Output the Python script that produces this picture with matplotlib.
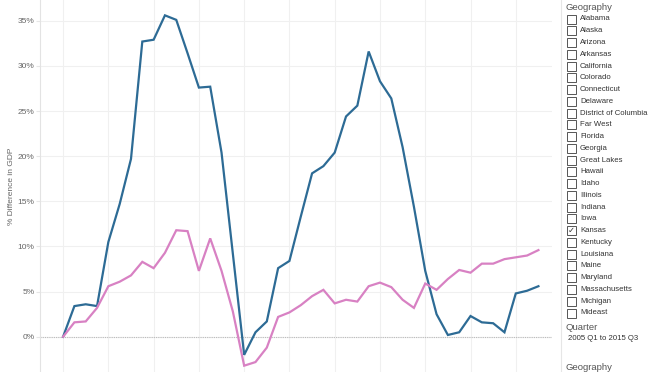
import matplotlib
matplotlib.use("Agg")
import matplotlib.pyplot as plt
from matplotlib.patches import Rectangle

# quarters 2005 Q1 .. 2015 Q3
quarters = [f"{y} Q{q}" for y in range(2005, 2016) for q in range(1, 5)][:43]

# % difference in GDP vs 2005 Q1
blue_vals = [0.0, 3.4, 3.6, 3.4, 10.5, 14.7, 19.7, 32.7, 32.9, 35.6,
             35.1, 31.4, 27.6, 27.7, 20.4, 9.2, -2.0, 0.5, 1.7, 7.6,
             8.4, 13.3, 18.1, 18.9, 20.4, 24.4, 25.6, 31.6, 28.3, 26.4,
             21.0, 14.4, 7.3, 2.5, 0.2, 0.5, 2.3, 1.6, 1.5, 0.5,
             4.8, 5.1, 5.6]
pink_vals = [0.0, 1.6, 1.7, 3.2, 5.6, 6.1, 6.8, 8.3, 7.6, 9.3,
             11.8, 11.7, 7.3, 10.9, 7.3, 2.8, -3.2, -2.8, -1.2, 2.2,
             2.7, 3.5, 4.5, 5.2, 3.7, 4.1, 3.9, 5.6, 6.0, 5.5,
             4.1, 3.2, 5.9, 5.2, 6.4, 7.4, 7.1, 8.1, 8.1, 8.6,
             8.8, 9.0, 9.6]

yticks = [0, 5, 10, 15, 20, 25, 30, 35]
geo_items = ["Alabama", "Alaska", "Arizona", "Arkansas", "California", "Colorado",
             "Connecticut", "Delaware", "District of Columbia", "Far West", "Florida",
             "Georgia", "Great Lakes", "Hawaii", "Idaho", "Illinois", "Indiana", "Iowa",
             "Kansas", "Kentucky", "Louisiana", "Maine", "Maryland", "Massachusetts",
             "Michigan", "Mideast"]
checked = ["Kansas"]

W, H = 672, 372
fig = plt.figure(figsize=(W / 100, H / 100), dpi=100)
plt.rcParams['font.family'] = ['Liberation Sans', 'DejaVu Sans']

ax = fig.add_axes([40 / W, 0, (552 - 40) / W, 1])
x = list(range(len(quarters)))
ax.plot(x, blue_vals, color='#2d6b95', lw=1.6, solid_joinstyle='miter', zorder=3)
ax.plot(x, pink_vals, color='#d881c3', lw=1.6, solid_joinstyle='miter', zorder=3)

ax.set_xlim(-2.04, 43.2)
ax.set_ylim(-3.9, 37.3)
ax.set_yticks(yticks)
ax.set_yticklabels([f"{t}%" for t in yticks])
ax.set_xticks(range(0, 44, 4))
ax.tick_params(axis='x', length=0, labelbottom=False)
ax.tick_params(axis='y', length=3, color='#e6e6e6', labelsize=6, labelcolor='#666666', pad=1)
ax.grid(True, color='#f0f0f0', lw=0.8)
ax.axhline(0, color='#bbbbbb', lw=0.8, ls=(0, (1, 1)), zorder=2)
for s in ['top', 'right', 'bottom']:
    ax.spines[s].set_visible(False)
ax.spines['left'].set_color('#e3e3e3')
ax.spines['left'].set_linewidth(0.8)
ax.set_ylabel("% Difference in GDP", fontsize=6, color='#666666', labelpad=2)

# filter panel on the right
fig.add_artist(plt.Line2D([561 / W, 561 / W], [0, 1], color='#e6e6e6', lw=0.8))
fig.text(566 / W, 1 - 8 / H, "Geography", fontsize=6.8, color='#555555', va='center')
for i, name in enumerate(geo_items):
    yc = 19 + i * 11.76
    fig.add_artist(Rectangle((567 / W, 1 - (yc + 4.5) / H), 9 / W, 9 / H,
                             fill=False, ec='#555555', lw=0.7))
    if name in checked:
        fig.text(571.5 / W, 1 - yc / H, "\u2713", fontsize=6, color='#333333',
                 ha='center', va='center', family=['DejaVu Sans'])
    fig.text(580 / W, 1 - yc / H, name, fontsize=5.6, color='#333333', va='center')
fig.text(566 / W, 1 - 327 / H, "Quarter", fontsize=6.8, color='#555555', va='center')
fig.text(568 / W, 1 - 338 / H, "2005 Q1 to 2015 Q3", fontsize=5.6, color='#333333', va='center')
fig.text(566 / W, 1 - 371.5 / H, "Geography", fontsize=6.8, color='#555555', va='bottom')

fig.savefig("out.png", dpi=100)
